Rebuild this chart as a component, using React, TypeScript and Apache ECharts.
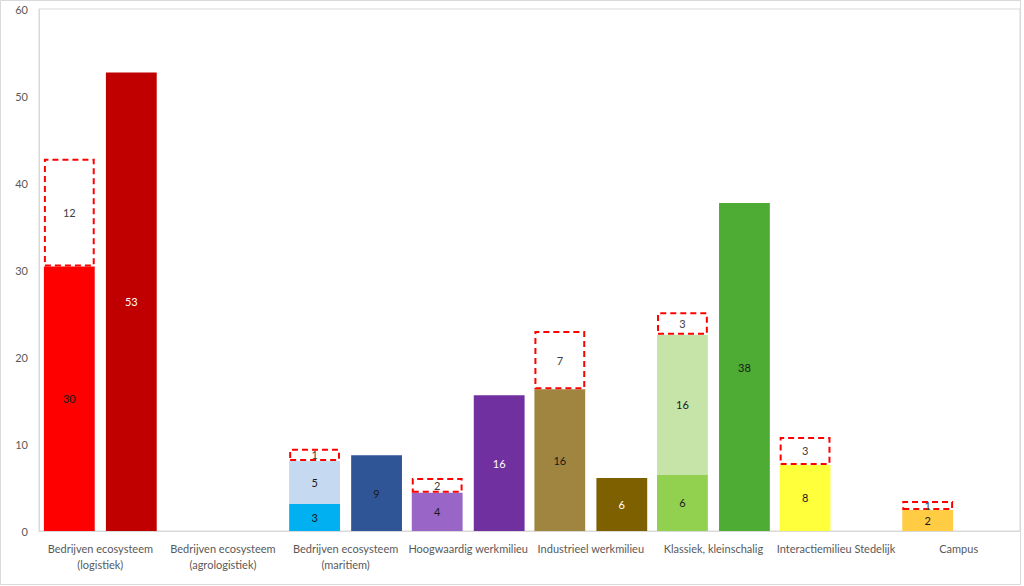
import React, { useEffect, useRef } from "react";
import * as echarts from "echarts";

const categories = [
  "Bedrijven ecosysteem\n(logistiek)",
  "Bedrijven ecosysteem\n(agrologistiek)",
  "Bedrijven ecosysteem\n(maritiem)",
  "Hoogwaardig werkmilieu",
  "Industrieel werkmilieu",
  "Klassiek, kleinschalig",
  "Interactiemilieu Stedelijk",
  "Campus",
];

const baseValues: (number | null)[] = [30.4, null, 3.1, 4.4, 16.3, 6.45, 7.6, 2.4];
const upperValues: (number | null)[] = [null, null, 4.95, null, null, 16.1, null, null];
const dashedValues: (number | null)[] = [12.4, null, 1.4, 1.7, 6.7, 2.6, 3.2, 1.05];
const rightValues: (number | null)[] = [52.7, null, 8.7, 15.6, 6.1, 37.7, null, null];

const yTicks = [0, 10, 20, 30, 40, 50, 60];

const baseColors = ["#FF0000", "#FF0000", "#00B0F0", "#9966C8", "#A08540", "#92D050", "#FFFF3C", "#FFCC44"];
const upperColors = ["#C5D9F1", "#C5D9F1", "#C5D9F1", "#C5D9F1", "#C5D9F1", "#C6E4A8", "#C5D9F1", "#C5D9F1"];
const rightColors = ["#C00000", "#C00000", "#2F5597", "#7030A0", "#7F6000", "#4EAC35", "#000000", "#000000"];
const rightLabelColors = ["#FFFFFF", "#FFFFFF", "#1a1a1a", "#FFFFFF", "#FFFFFF", "#1a1a1a", "#1a1a1a", "#1a1a1a"];

const FONT = "Lato";

function toData(values: (number | null)[], colors?: string[], labelColors?: string[]) {
  return values.map((v, i) => {
    if (v === null) return "-";
    const item: any = { value: v };
    if (colors) item.itemStyle = { color: colors[i] };
    if (labelColors) item.label = { color: labelColors[i] };
    return item;
  });
}

export default function App() {
  const ref = useRef<HTMLDivElement>(null);
  useEffect(() => {
    document.body.style.margin = "0";
    if (!ref.current) return;
    const chart = echarts.init(ref.current, undefined, { renderer: "svg" });
    const label = {
      show: true,
      position: "inside",
      fontFamily: FONT,
      fontSize: 11,
      color: "#1a1a1a",
      formatter: (p: any) => String(Math.round(p.value)),
    };
    const common = {
      type: "bar",
      barCategoryGap: "8%",
      barGap: "22%",
    };
    chart.setOption({
      animation: false,
      textStyle: { fontFamily: FONT },
      graphic: [
        {
          type: "rect",
          shape: { x: 0.5, y: 0.5, width: 1020, height: 584 },
          style: { fill: "none", stroke: "#d9d9d9", lineWidth: 1 },
          z: -10,
        },
      ],
      grid: {
        left: 39,
        right: 4,
        top: 9,
        bottom: 55,
        show: true,
        borderColor: "#d9d9d9",
        borderWidth: 1,
      },
      xAxis: {
        type: "category",
        data: categories,
        axisLine: { show: true, lineStyle: { color: "#d9d9d9" } },
        axisTick: { show: false },
        axisLabel: {
          interval: 0,
          color: "#595959",
          fontFamily: FONT,
          fontSize: 11,
          lineHeight: 16,
          margin: 9,
        },
      },
      yAxis: {
        type: "value",
        min: yTicks[0],
        max: yTicks[yTicks.length - 1],
        interval: 10,
        axisLine: { show: true, lineStyle: { color: "#d9d9d9" } },
        axisTick: { show: false },
        splitLine: { show: false },
        axisLabel: { color: "#595959", fontFamily: FONT, fontSize: 11, margin: 11 },
      },
      series: [
        {
          ...common,
          name: "base",
          stack: "left",
          data: toData(baseValues, baseColors),
          label,
        },
        {
          ...common,
          name: "upper",
          stack: "left",
          data: toData(upperValues, upperColors),
          label,
        },
        {
          ...common,
          name: "potential",
          stack: "left",
          data: toData(dashedValues),
          itemStyle: {
            color: "rgba(255,255,255,0)",
            borderColor: "#FF0000",
            borderWidth: 2,
            borderType: [6, 4],
          },
          label: { ...label, color: "#404040" },
        },
        {
          ...common,
          name: "right",
          stack: "right",
          data: toData(rightValues, rightColors, rightLabelColors),
          label,
        },
      ],
    });
    return () => chart.dispose();
  }, []);
  return <div ref={ref} style={{ width: 1024, height: 586 }} />;
}
